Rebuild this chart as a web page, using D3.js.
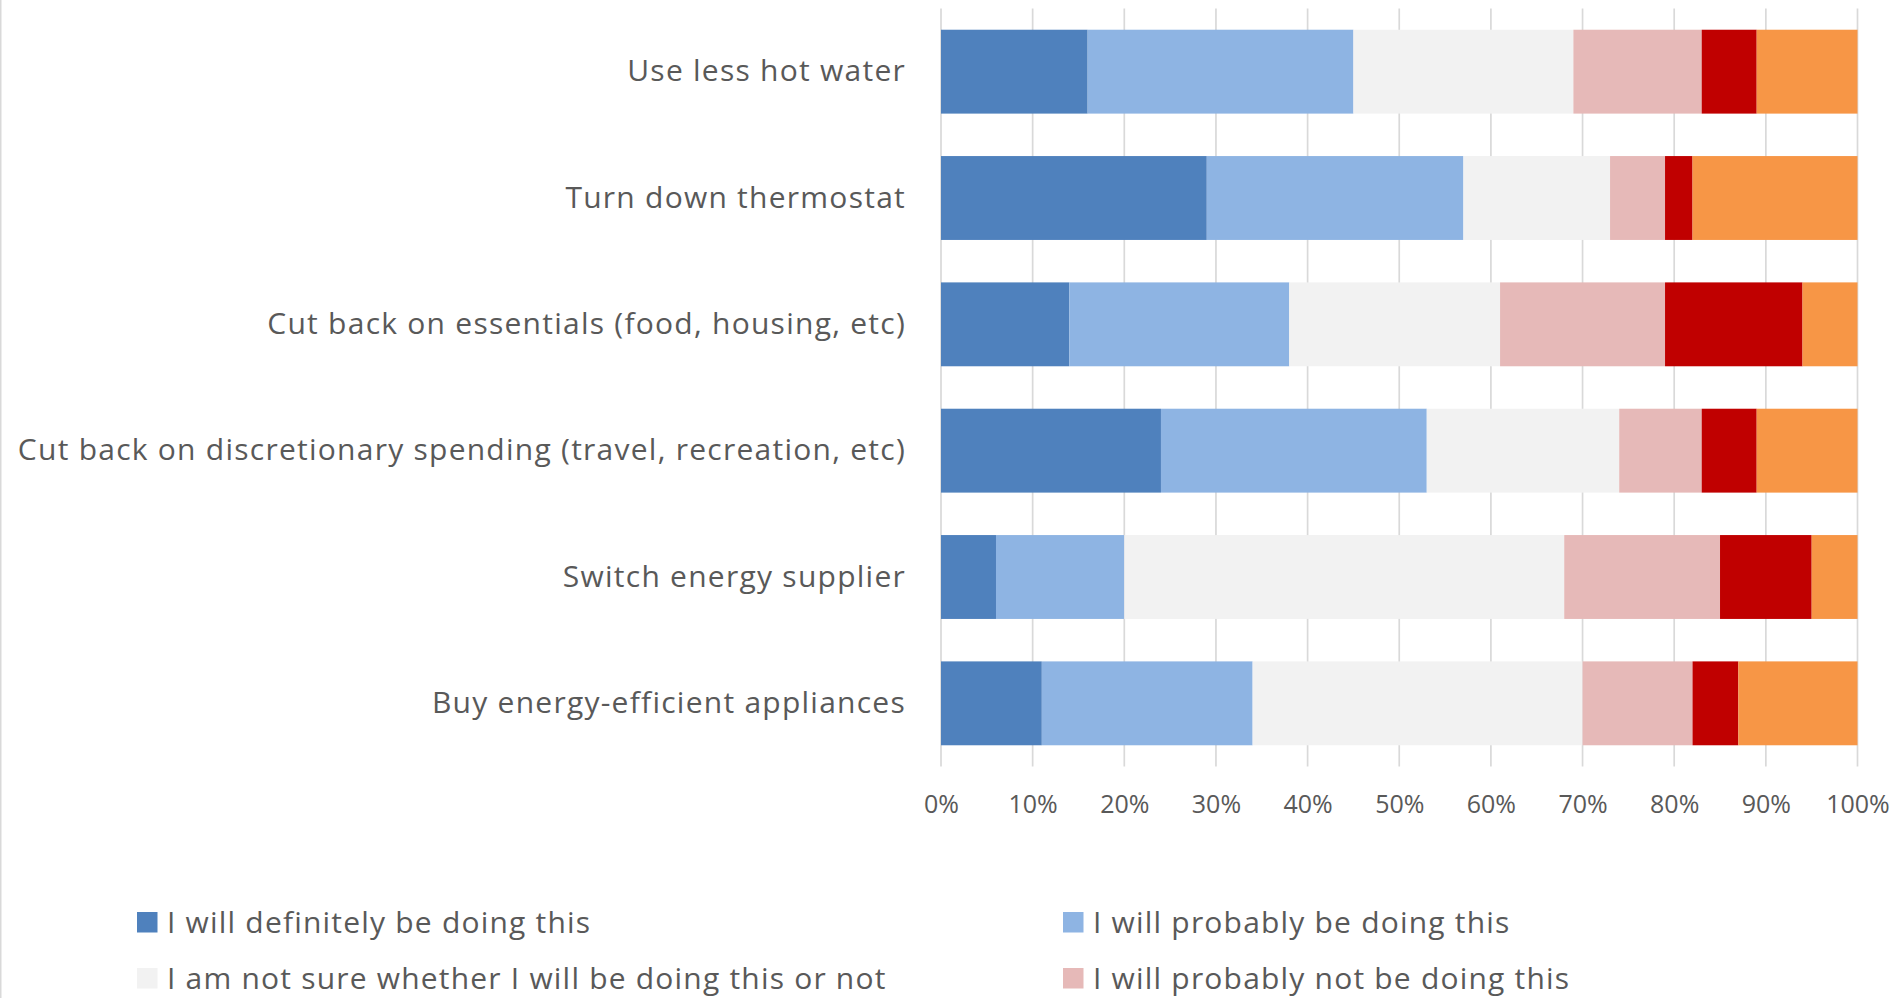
<!DOCTYPE html>
<html>
<head>
<meta charset="utf-8">
<script src="https://cdn.jsdelivr.net/npm/d3@7"></script>
<style>
  html, body { margin: 0; padding: 0; background: #fff; overflow: hidden; }
  svg { display: block; font-family: "Open Sans", sans-serif; }
</style>
</head>
<body>
<svg id="chart" width="1897" height="998"></svg>
<script>
// ---- Data ----
const categories = [
  "Use less hot water",
  "Turn down thermostat",
  "Cut back on essentials (food, housing, etc)",
  "Cut back on discretionary spending (travel, recreation, etc)",
  "Switch energy supplier",
  "Buy energy-efficient appliances"
];
const seriesNames = [
  "I will definitely be doing this",
  "I will probably be doing this",
  "I am not sure whether I will be doing this or not",
  "I will probably not be doing this",
  "I will definitely not be doing this",
  "I am already doing this"
];
const definitelyDoing    = [16, 29, 14, 24,  6, 11];
const probablyDoing      = [29, 28, 24, 29, 14, 23];
const notSure            = [24, 16, 23, 21, 48, 36];
const probablyNotDoing   = [14,  6, 18,  9, 17, 12];
const definitelyNotDoing = [ 6,  3, 15,  6, 10,  5];
const alreadyDoing       = [11, 18,  6, 11,  5, 13];
const tickValues = [0, 0.1, 0.2, 0.3, 0.4, 0.5, 0.6, 0.7, 0.8, 0.9, 1.0];
const colors = ["#4F81BD", "#8EB4E3", "#F2F2F2", "#E6B9B8", "#C00000", "#F79646"];

const seriesValues = [definitelyDoing, probablyDoing, notSure, probablyNotDoing, definitelyNotDoing, alreadyDoing];

// ---- Build table ----
const keys = seriesNames;
const table = categories.map((c, i) => {
  const row = { category: c };
  const total = d3.sum(seriesValues, s => s[i]);
  keys.forEach((k, j) => { row[k] = seriesValues[j][i] / total; });
  return row;
});
const stacked = d3.stack().keys(keys)(table);

// ---- Layout ----
const svg = d3.select("#chart");
const W = 1897, H = 998;
const plot = { left: 941, right: 1857.5, top: 8.5, bottom: 766.5 };
const textColor = "#595959";
const gridColor = "#D9D9D9";

const x = d3.scaleLinear().domain([0, 1]).range([plot.left, plot.right]);
const y = d3.scaleBand().domain(categories).range([plot.top, plot.bottom])
  .paddingInner(0.336).paddingOuter(0.168);

// chart area border (left edge visible)
svg.append("line")
  .attr("x1", 0.75).attr("x2", 0.75).attr("y1", 0).attr("y2", H)
  .attr("stroke", gridColor).attr("stroke-width", 1.5);

// gridlines
svg.append("g")
  .selectAll("line")
  .data(tickValues)
  .join("line")
  .attr("x1", d => x(d)).attr("x2", d => x(d))
  .attr("y1", plot.top).attr("y2", plot.bottom)
  .attr("stroke", gridColor).attr("stroke-width", 1.7);

// bars
svg.append("g")
  .selectAll("g")
  .data(stacked)
  .join("g")
  .attr("fill", (d, i) => colors[i])
  .selectAll("rect")
  .data(d => d)
  .join("rect")
  .attr("x", d => x(d[0]))
  .attr("y", d => y(d.data.category))
  .attr("width", d => x(d[1]) - x(d[0]))
  .attr("height", y.bandwidth());

// x axis (tick labels)
const xAxis = d3.axisBottom(x)
  .tickValues(tickValues)
  .tickFormat(d3.format(".0%"))
  .tickSize(0)
  .tickPadding(0);
const gx = svg.append("g")
  .attr("transform", `translate(0, ${plot.bottom})`)
  .call(xAxis);
gx.select(".domain").remove();
gx.selectAll("text")
  .attr("y", 46.5).attr("dy", null)
  .attr("fill", textColor)
  .style("font-size", "25px")
  .style("font-family", "'Open Sans', sans-serif");

// y axis (category labels)
const yAxis = d3.axisLeft(y).tickSize(0).tickPadding(35);
const gy = svg.append("g")
  .attr("transform", `translate(${plot.left}, 0)`)
  .call(yAxis);
gy.select(".domain").remove();
gy.selectAll("text")
  .attr("dy", "0.32em")
  .attr("fill", textColor)
  .style("font-size", "30px")
  .style("letter-spacing", "1.25px")
  .style("font-family", "'Open Sans', sans-serif");

// legend
const legendCols = [137, 1063];
const legendRows = [912, 968, 1024];
const legend = svg.append("g");
seriesNames.forEach((name, i) => {
  const cx = legendCols[i % 2];
  const cy = legendRows[Math.floor(i / 2)];
  const g = legend.append("g").attr("transform", `translate(${cx}, ${cy})`);
  g.append("rect").attr("width", 20.5).attr("height", 20.5).attr("fill", colors[i]);
  g.append("text")
    .attr("x", 30).attr("y", 20.5)
    .attr("fill", textColor)
    .style("font-size", "30px")
    .style("letter-spacing", "1.2px")
    .text(name);
});
</script>
</body>
</html>
